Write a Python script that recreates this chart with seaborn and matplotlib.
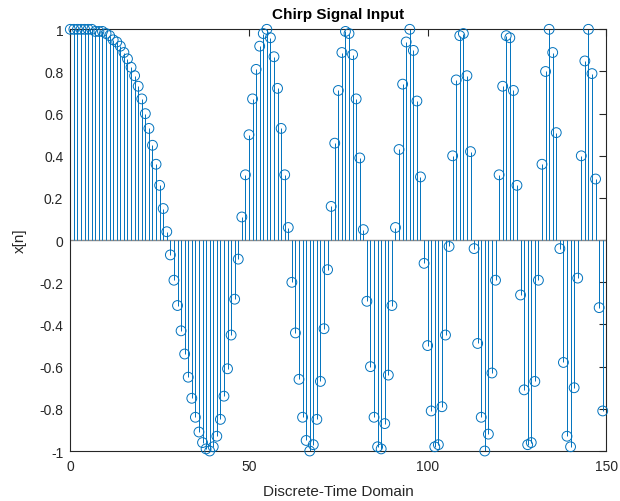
import numpy as np
import pandas as pd
import matplotlib
matplotlib.use("Agg")
import matplotlib.pyplot as plt
import seaborn as sns

# Sample indices and chirp samples x[n]
n_idx = list(range(150))
x_vals = [
    1.00, 1.00, 1.00, 1.00, 1.00, 1.00, 1.00, 0.99, 0.99, 0.99,
    0.98, 0.97, 0.95, 0.94, 0.92, 0.89, 0.86, 0.82, 0.78, 0.73,
    0.67, 0.60, 0.53, 0.45, 0.36, 0.26, 0.15, 0.04, -0.07, -0.19,
    -0.31, -0.43, -0.54, -0.65, -0.75, -0.84, -0.91, -0.96, -0.99, -1.00,
    -0.98, -0.93, -0.85, -0.74, -0.61, -0.45, -0.28, -0.09, 0.11, 0.31,
    0.50, 0.67, 0.81, 0.92, 0.98, 1.00, 0.96, 0.87, 0.72, 0.53,
    0.31, 0.06, -0.20, -0.44, -0.66, -0.84, -0.95, -1.00, -0.97, -0.85,
    -0.67, -0.42, -0.14, 0.16, 0.46, 0.71, 0.89, 0.99, 0.98, 0.88,
    0.67, 0.39, 0.05, -0.29, -0.60, -0.84, -0.98, -0.99, -0.87, -0.64,
    -0.31, 0.06, 0.43, 0.74, 0.94, 1.00, 0.90, 0.66, 0.30, -0.11,
    -0.50, -0.81, -0.98, -0.97, -0.79, -0.45, -0.03, 0.40, 0.76, 0.97,
    0.98, 0.78, 0.42, -0.04, -0.49, -0.84, -1.00, -0.92, -0.63, -0.19,
    0.31, 0.73, 0.97, 0.96, 0.71, 0.26, -0.26, -0.71, -0.97, -0.96,
    -0.67, -0.19, 0.36, 0.80, 1.00, 0.89, 0.51, -0.04, -0.58, -0.93,
    -0.98, -0.70, -0.18, 0.40, 0.85, 1.00, 0.79, 0.29, -0.32, -0.81,
]
x_ticks = [0, 50, 100, 150]
y_ticks = [-1, -0.8, -0.6, -0.4, -0.2, 0, 0.2, 0.4, 0.6, 0.8, 1]

df = pd.DataFrame({"n": n_idx, "x": x_vals})

sns.set_style("white")
plt.rcParams["font.family"] = ["Liberation Sans", "DejaVu Sans"]
plt.rcParams["axes.unicode_minus"] = False

stem_color = "#0072BD"
axis_color = "#262626"

fig = plt.figure(figsize=(6.2, 5.02), dpi=100)
ax = fig.add_axes([0.1134, 0.0996, 0.8645, 0.8400])

# stems and baseline
ax.vlines(df["n"], 0, df["x"], color=stem_color, linewidth=0.7, zorder=2)
ax.axhline(0, color="#8c8c8c", linewidth=1.0, zorder=1)

# open circle markers (drawn past the axes edge, like the stems' tips)
sns.scatterplot(data=df, x="n", y="x", ax=ax, marker="o", s=50,
                facecolors="none", edgecolor=stem_color, linewidth=0.7,
                zorder=3, legend=False, clip_on=False)

ax.set_xlim(0, 150)
ax.set_ylim(-1, 1)
ax.set_xticks(x_ticks)
ax.set_xticklabels([str(t) for t in x_ticks])
ax.set_yticks(y_ticks)
ax.set_yticklabels([("%g" % t) for t in y_ticks])

ax.tick_params(axis="both", which="both", direction="in", length=5,
               width=0.8, color=axis_color, labelcolor=axis_color,
               labelsize=10, top=True, right=True)
ax.tick_params(axis="x", pad=6)
ax.tick_params(axis="y", pad=5)
for sp in ax.spines.values():
    sp.set_color(axis_color)
    sp.set_linewidth(0.8)
    sp.set_visible(True)

ax.set_title("Chirp Signal Input", fontsize=11, fontweight="bold",
             color="black", pad=8)
ax.set_xlabel("Discrete-Time Domain", fontsize=11, color=axis_color, labelpad=8)
ax.set_ylabel("x[n]", fontsize=11, color=axis_color, labelpad=9)

fig.savefig("out.png", dpi=100, facecolor="white")
